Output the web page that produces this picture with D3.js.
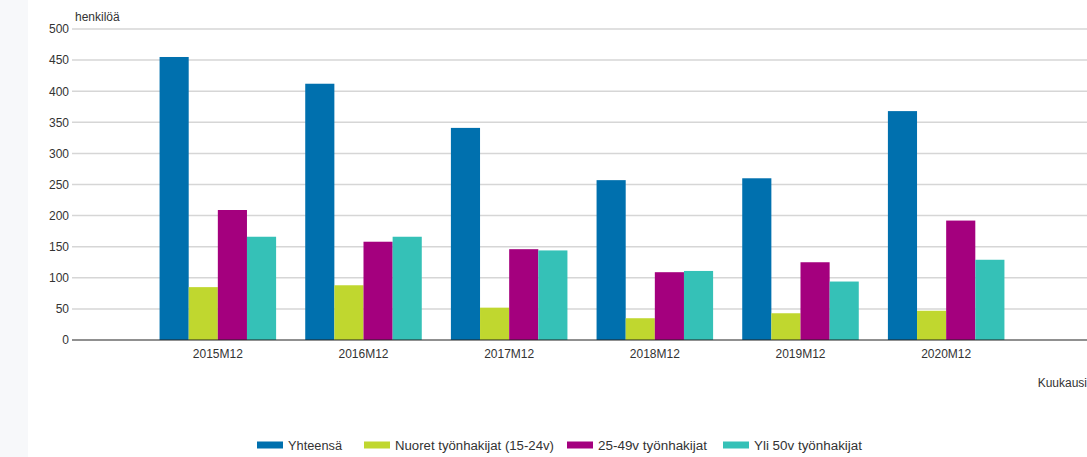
<!DOCTYPE html>
<html lang="fi">
<head>
<meta charset="UTF-8">
<title>Työnhakijat</title>
<script src="https://d3js.org/d3.v7.min.js"></script>
<style>
    body {
        margin: 0;
        padding: 0;
        background: #ffffff;
        font-family: 'Liberation Sans', Arial, sans-serif;
    }
    svg { display: block; }
    .y-axis text, .x-axis text { fill: #333; font-size: 12px; }
    .grid line { stroke: #d6d6d6; stroke-width: 1.5; }
    .legend text { fill: #333; font-size: 12px; }
</style>
</head>
<body>
<svg width="1087" height="457"></svg>
<script>
    const categories = ["2015M12", "2016M12", "2017M12", "2018M12", "2019M12", "2020M12"];
    const seriesNames = ["Yhteensä", "Nuoret työnhakijat (15-24v)", "25-49v työnhakijat", "Yli 50v työnhakijat"];
    const seriesColors = ["#0070ae", "#c0d72f", "#a4007e", "#35c1b7"];
    const yhteensa = [455, 412, 341, 257, 260, 368];
    const nuoret = [85, 88, 52, 35, 43, 47];
    const keski = [209, 158, 146, 109, 125, 192];
    const yli50 = [166, 166, 144, 111, 94, 129];
    const yTicks = [0, 50, 100, 150, 200, 250, 300, 350, 400, 450, 500];

    const seriesValues = [yhteensa, nuoret, keski, yli50];
    const data = categories.map((c, i) => ({
        cat: c,
        values: seriesNames.map((s, j) => ({ key: s, value: seriesValues[j][i] }))
    }));

    const svg = d3.select("svg");

    // light strip on the left edge
    svg.append("rect").attr("x", 0).attr("y", 0).attr("width", 28).attr("height", 457).attr("fill", "#f7f8fa");

    const x = d3.scaleBand().domain(categories).range([145, 1019]).paddingInner(0.2).paddingOuter(0.1);
    const sub = d3.scaleBand().domain(seriesNames).range([0, x.bandwidth()]);
    const y = d3.scaleLinear().domain([0, 500]).range([340, 29]);
    const color = d3.scaleOrdinal().domain(seriesNames).range(seriesColors);

    // gridlines
    svg.append("g").attr("class", "grid")
        .selectAll("line").data(yTicks.filter(t => t > 0)).join("line")
        .attr("x1", 72).attr("x2", 1087)
        .attr("y1", d => y(d)).attr("y2", d => y(d));

    // y axis labels
    const yAxis = svg.append("g").attr("class", "y-axis")
        .attr("transform", "translate(72,0)")
        .call(d3.axisLeft(y).tickValues(yTicks).tickSize(0).tickPadding(3));
    yAxis.select(".domain").remove();

    // bars
    svg.append("g").selectAll("g").data(data).join("g")
        .attr("transform", d => `translate(${x(d.cat)},0)`)
        .selectAll("rect").data(d => d.values).join("rect")
        .attr("x", d => sub(d.key))
        .attr("width", sub.bandwidth())
        .attr("y", d => y(d.value))
        .attr("height", d => y(0) - y(d.value))
        .attr("fill", d => color(d.key));

    // baseline
    svg.append("line").attr("x1", 72).attr("x2", 1087)
        .attr("y1", y(0)).attr("y2", y(0))
        .attr("stroke", "#222").attr("stroke-width", 1.2);

    // x axis labels
    const xAxis = svg.append("g").attr("class", "x-axis")
        .attr("transform", `translate(0,${y(0)})`)
        .call(d3.axisBottom(x).tickSize(0).tickPadding(9));
    xAxis.select(".domain").remove();

    // axis titles
    svg.append("text").attr("x", 75).attr("y", 21)
        .attr("fill", "#333").style("font-size", "12px").text("henkilöä");
    svg.append("text").attr("x", 1087).attr("y", 387).attr("text-anchor", "end")
        .attr("fill", "#333").style("font-size", "12px").text("Kuukausi");

    // legend
    const legendX = [257, 364, 567, 723];
    const legendTextW = [54, 159, 109, 108];
    const legend = svg.append("g").attr("class", "legend");
    const items = legend.selectAll("g").data(seriesNames).join("g")
        .attr("transform", (d, i) => `translate(${legendX[i]},441.5)`);
    items.append("rect").attr("width", 26).attr("height", 7).attr("fill", d => color(d));
    items.append("text").attr("x", 31).attr("y", 8)
        .attr("textLength", (d, i) => legendTextW[i])
        .attr("lengthAdjust", "spacingAndGlyphs")
        .text(d => d);
</script>
</body>
</html>
